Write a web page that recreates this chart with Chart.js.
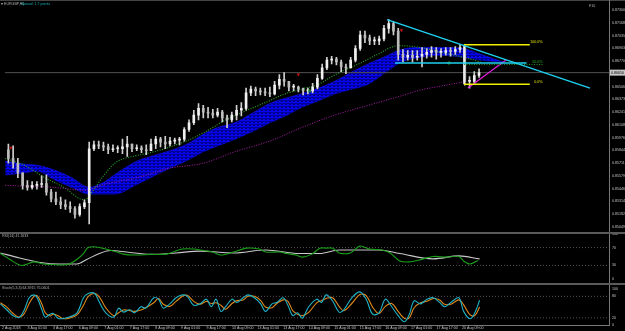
<!DOCTYPE html>
<html>
<head>
<meta charset="utf-8">
<script src="https://cdn.jsdelivr.net/npm/chart.js@4"></script>
<style>
body { margin:0; background:#000; width:625px; height:331px; overflow:hidden; position:relative; font-family:'Liberation Sans', sans-serif; }
canvas { position:absolute; left:0; }
.rule { position:absolute; background:#5a5a5a; }
.txt { position:absolute; font-size:3.6px; line-height:5px; white-space:nowrap; color:#b4b4b4; }
</style>
</head>
<body>
<canvas id="priceChart" style="top:0" width="625" height="233"></canvas>
<canvas id="rsiChart" style="top:229px" width="625" height="55"></canvas>
<canvas id="stochChart" style="top:284px" width="625" height="47"></canvas>

<div class="rule" style="left:0;top:0;width:625px;height:1px;background:#444"></div>
<div class="rule" style="left:609px;top:0;width:1px;height:326px;background:#777"></div>
<div class="rule" style="left:0;top:232px;width:625px;height:2px"></div>
<div class="rule" style="left:0;top:283px;width:625px;height:2px"></div>
<div class="rule" style="left:0;top:325px;width:610px;height:1px;background:#777"></div>

<div class="txt" style="left:1px;top:2px">&#9662; EURGBP,H1</div>
<div class="txt" style="left:21px;top:2px;color:#19b3b3">Spread: 1.7 points</div>
<div class="txt" style="left:589px;top:4px">F10</div>
<div class="txt" style="left:2px;top:234px">RSI(14) 41.1633</div>
<div class="txt" style="left:2px;top:286px">Stoch(5,3,3) 64.3915 75.0601</div>

<script>
Chart.defaults.font.family = 'Liberation Sans';

// time axis: one label every 16 hourly bars
const timeLabels = ['2 Aug 2018', '3 Aug 01:00', '3 Aug 17:00', '6 Aug 09:00', '7 Aug 01:00', '7 Aug 17:00',
    '8 Aug 09:00', '9 Aug 01:00', '9 Aug 17:00', '10 Aug 09:00', '13 Aug 01:00', '13 Aug 17:00',
    '14 Aug 09:00', '15 Aug 01:00', '15 Aug 17:00', '16 Aug 09:00', '17 Aug 01:00', '17 Aug 17:00', '20 Aug 09:00'];
const priceTicks = [0.87300, 0.87168, 0.87035, 0.86903, 0.86770, 0.86638, 0.86506, 0.86373, 0.86241,
    0.86108, 0.85976, 0.85844, 0.85711, 0.85579, 0.85446, 0.85314, 0.85182, 0.85049];

// candles, each one covers 3 hourly bars
const candleStep = 3;
const firstOpen = 0.8585;
const candleHigh = [0.8591,0.8589,0.8576,0.8561,0.8553,0.8552,0.8552,0.8558,0.8559,0.8544,
    0.8541,0.8536,0.8533,0.8531,0.8526,0.8529,0.8533,0.8593,0.8594,0.8594,
    0.8593,0.8591,0.8590,0.8589,0.8596,0.8599,0.8591,0.8590,0.8589,0.8590,
    0.8596,0.8599,0.8598,0.8599,0.8598,0.8597,0.8598,0.8608,0.8616,0.8626,
    0.8633,0.8631,0.8629,0.8627,0.8628,0.8626,0.8621,0.8624,0.8631,0.8634,
    0.8649,0.8651,0.8650,0.8649,0.8649,0.8650,0.8656,0.8663,0.8665,0.8654,
    0.8653,0.8651,0.8649,0.8649,0.8654,0.8663,0.8674,0.8681,0.8682,0.8681,
    0.8678,0.8674,0.8681,0.8693,0.8708,0.8708,0.8704,0.8702,0.8703,0.8714,
    0.8720,0.8718,0.8711,0.8689,0.8688,0.8688,0.8688,0.8691,0.8690,0.8692,
    0.8691,0.8690,0.8691,0.8691,0.8692,0.8694,0.8693,0.8661,0.8666,0.8669];
const candleLow = [0.8571,0.8566,0.8556,0.8544,0.8543,0.8544,0.8544,0.8546,0.8538,0.8531,
    0.8528,0.8524,0.8523,0.8520,0.8514,0.8516,0.8524,0.8508,0.8584,0.8586,
    0.8584,0.8581,0.8583,0.8582,0.8581,0.8578,0.8583,0.8584,0.8582,0.8580,
    0.8584,0.8586,0.8588,0.8586,0.8589,0.8591,0.8590,0.8594,0.8604,0.8611,
    0.8616,0.8618,0.8618,0.8618,0.8619,0.8614,0.8608,0.8614,0.8616,0.8620,
    0.8626,0.8641,0.8641,0.8642,0.8641,0.8640,0.8642,0.8648,0.8651,0.8646,
    0.8646,0.8645,0.8642,0.8643,0.8644,0.8648,0.8658,0.8668,0.8674,0.8673,
    0.8666,0.8664,0.8670,0.8676,0.8688,0.8696,0.8694,0.8694,0.8694,0.8698,
    0.8706,0.8704,0.8678,0.8676,0.8678,0.8676,0.8678,0.8671,0.8680,0.8681,
    0.8679,0.8681,0.8683,0.8682,0.8684,0.8686,0.8652,0.8649,0.8654,0.8660];
const candleClose = [0.8576,0.8571,0.8561,0.8548,0.8546,0.8548,0.8549,0.8550,0.8541,0.8534,
    0.8531,0.8528,0.8526,0.8524,0.8518,0.8526,0.8530,0.8586,0.8590,0.8589,
    0.8588,0.8585,0.8586,0.8586,0.8588,0.8591,0.8586,0.8587,0.8585,0.8584,
    0.8591,0.8596,0.8593,0.8591,0.8594,0.8595,0.8596,0.8606,0.8613,0.8621,
    0.8628,0.8624,0.8623,0.8621,0.8624,0.8618,0.8616,0.8621,0.8626,0.8628,
    0.8644,0.8648,0.8646,0.8645,0.8644,0.8643,0.8652,0.8658,0.8656,0.8650,
    0.8650,0.8648,0.8646,0.8646,0.8650,0.8659,0.8670,0.8678,0.8679,0.8676,
    0.8671,0.8670,0.8678,0.8690,0.8704,0.8701,0.8698,0.8698,0.8700,0.8711,
    0.8716,0.8708,0.8684,0.8681,0.8683,0.8681,0.8682,0.8684,0.8686,0.8688,
    0.8686,0.8686,0.8688,0.8687,0.8689,0.8691,0.8656,0.8656,0.8662,0.8665];

// moving averages (bar index -> price)
const fastBars = [-1,11,24,36,49,55,61,69,82,93,103,116,130,136,149,166,174,186,197,203,211,222,234,247,261,274,288,299];
const fastMa = [0.8576,0.8569,0.8556,0.8546,0.8533,0.8544,0.8558,0.8572,0.8579,0.8583,0.8588,0.8596,0.8608,0.8614,
    0.8624,0.8636,0.8642,0.8648,0.8653,0.8659,0.8666,0.8674,0.8684,0.8693,0.8691,0.8686,0.8681,0.8676];
const bandBars = [-1,11,19,30,41,52,61,68,82,93,103,114,124,133,144,155,166,177,186,197,207,218,228,238,249,261,274,288,299,313];
const bandUpper = [0.8573,0.8570,0.8569,0.8564,0.8556,0.8546,0.8551,0.8559,0.8573,0.8579,0.8584,0.8591,0.8601,0.8608,0.8613,
    0.8623,0.8633,0.8639,0.8643,0.8649,0.8656,0.8666,0.8674,0.8681,0.8689,0.8691,0.8691,0.8690,0.8684,0.8676];
const bandLower = [0.8559,0.8561,0.8563,0.8554,0.8546,0.8539,0.8539,0.8539,0.8549,0.8558,0.8566,0.8574,0.8583,0.8589,0.8596,
    0.8604,0.8613,0.8621,0.8629,0.8636,0.8643,0.8648,0.8653,0.8664,0.8676,0.8681,0.8683,0.8681,0.8678,0.8676];
const slowBars = [-1,30,49,61,82,103,124,144,166,186,207,228,249,261,274,290];
const slowMa = [0.8548,0.8546,0.8543,0.8549,0.8556,0.8566,0.8571,0.8583,0.8594,0.8608,0.8621,0.8631,0.8641,0.8647,0.8651,0.8656];

// drawn objects
const bidPrice = 0.8665;
const trendBars = [240, 368], trendPrices = [0.8720, 0.8649];
const supportBars = [245, 328], supportPrice = 0.8675;
const fibBars = [288.5, 330], fibMidEnd = 339, fibLabelBar = 338;
const fibLevels = [0.8694, 0.86735, 0.8653];
const fibNames = ['100.0%', '50.0%', '0.0%'];
const riseBars = [291, 315], risePrices = [0.8649, 0.8678];
const sellBars = [2.5, 184, 249], sellPrices = [0.8587, 0.8663, 0.8709];
const buyBars = [191, 279], buyPrices = [0.8646, 0.8675];

// RSI
const rsiBars = [-1,5,12,20,26,32,40,44,48,51,54,59,65,72,76,82,93,103,113,120,126,132,137,145,153,161,165,174,178,184,
    188,194,199,203,207,211,218,224,230,238,243,249,255,261,270,278,286,289,293,298];
const rsiValues = [56.7,43.3,30,38,33.3,32,31.4,36.7,46.7,56.7,70,71.4,66.7,60,55.3,53.3,54.7,55.3,66.7,66.7,
    63.3,60,53.3,60,68.7,66.7,60,60,56.7,53.3,48.7,55.3,68.7,68.7,68.7,58,58,73.3,66.7,64.7,
    58,40,38,42,50,48.7,50,40,33.3,41.2];
const rsiMaBars = [-1,11,24,36,47,53,61,68,78,93,109,124,145,165,186,199,211,236,249,270,286,299];
const rsiMa = [58,46.7,36.7,33.3,33.3,43.3,56.7,63.3,60,54.7,58,62,58,64.7,56.7,56.7,64.7,64.7,56.7,44.7,51.3,44.7];
const rsiLevels = [70, 30];

// Stochastic
const stochBars = [-1,3,7,11,14,17,20,22,25,27,30,32,35,38,42,47,51,54,58,61,65,70,73,76,80,83,87,90,95,98,
    101,105,109,113,116,120,124,128,131,134,137,140,144,147,151,154,158,162,165,169,172,176,179,182,185,188,192,197,200,203,
    207,211,214,219,224,228,232,236,240,244,248,252,255,258,262,266,270,274,277,281,286,289,293,296,299];
const stochMain = [59,42.5,26,22,42.5,76,84,76,42.5,22,30,32.5,19,17.5,22,34,76,88,88,63,34,22,47,36,42.5,34,51,47,76,72,
    47,59,76,84,80,55,59,72,51,72,38,51,72,63,76,84,76,59,38,59,63,76,55,26,34,19,51,72,63,84,
    67,36,42.5,76,92.5,72,30,34,72,51,26,9,30,67.5,59,72,76,63,51,63,76,38,17.5,34,69];
const stochSignal = [62,50,32,22,32,60,80,82,58,35,25,30,26,18,19,28,55,80,88,78,48,26,34,42,40,38,42,48,62,74,
    58,52,66,80,83,66,58,66,60,62,55,44,60,68,70,80,80,68,50,48,60,70,66,40,30,26,35,62,68,74,
    76,52,40,60,85,82,50,32,52,60,38,18,20,48,62,66,74,70,58,58,70,56,28,26,50];
const stochLevels = [80, 20];

const barMin = -1.25, barMax = 380;

function points(bars, values) {
    return bars.map((b, i) => ({x: b, y: values[i]}));
}

function lineSet(data, color, width, dash, order, extra) {
    return Object.assign({
        type: 'line', data: data, borderColor: color, borderWidth: width, borderDash: dash || [],
        pointRadius: 0, fill: false, order: order
    }, extra || {});
}

function bluePattern() {
    const c = document.createElement('canvas');
    c.width = 4; c.height = 3;
    const g = c.getContext('2d');
    g.fillStyle = '#0505f0'; g.fillRect(0, 0, 4, 3);
    g.fillStyle = '#00009c'; g.fillRect(0, 1, 4, 1);
    g.fillStyle = '#00007a'; g.fillRect(1, 2, 2, 1);
    return g.createPattern(c, 'repeat');
}

const xHidden = {type: 'linear', min: barMin, max: barMax, offset: false, display: false};

function yAxis(min, max, ticks, fmt) {
    return {
        position: 'right', min: min, max: max,
        afterFit: s => { s.width = 16; },
        afterBuildTicks: s => { s.ticks = ticks.map(v => ({value: v})); },
        ticks: {color: '#c4c4c4', font: {size: 3.6}, padding: 3, autoSkip: false, callback: fmt},
        grid: {display: false, drawTicks: false},
        border: {display: false}
    };
}

const baseOptions = {
    responsive: false, animation: false, events: [],
    plugins: {legend: {display: false}, tooltip: {enabled: false}}
};

// candles
const opens = candleClose.map((c, i) => i === 0 ? firstOpen : candleClose[i - 1]);
const candleX = candleClose.map((c, i) => i * candleStep + 1);
const wickData = candleX.map((x, i) => ({x: x, y: [candleLow[i], candleHigh[i]]}));
const bodyData = candleX.map((x, i) => ({x: x, y: [opens[i], candleClose[i]]}));
const bodyColors = candleClose.map((c, i) => c >= opens[i] ? '#f0f0f0' : '#bcbcbc');

const overlayText = {
    id: 'overlayText',
    afterDraw(chart) {
        const {ctx, scales: {x, y}} = chart;
        ctx.save();
        ctx.font = '3.6px Liberation Sans';
        ctx.textAlign = 'right';
        ctx.textBaseline = 'bottom';
        fibLevels.forEach((lv, i) => {
            ctx.fillStyle = i === 1 ? '#22b322' : '#e6e600';
            ctx.fillText(fibNames[i], x.getPixelForValue(fibLabelBar), y.getPixelForValue(lv) - 0.5);
        });
        // current price box on the axis
        const py = y.getPixelForValue(bidPrice);
        ctx.fillStyle = '#c8c8c8';
        ctx.fillRect(chart.chartArea.right + 1, py - 3, 16, 6);
        ctx.fillStyle = '#000';
        ctx.textAlign = 'left';
        ctx.textBaseline = 'middle';
        ctx.fillText(bidPrice.toFixed(5), chart.chartArea.right + 2, py);
        ctx.restore();
    }
};

new Chart(document.getElementById('priceChart'), {
    type: 'bar',
    data: {
        datasets: [
            lineSet(points(bandBars, bandUpper), '#1515ff', 0.6, null, 10,
                {fill: '+1', backgroundColor: bluePattern(), cubicInterpolationMode: 'monotone'}),
            lineSet(points(bandBars, bandLower), '#1515ff', 0.6, null, 10, {cubicInterpolationMode: 'monotone'}),
            lineSet(points(slowBars, slowMa), '#a81ea8', 1, [1, 1.5], 8, {cubicInterpolationMode: 'monotone'}),
            lineSet(points(fastBars, fastMa), '#26b026', 1.1, [1, 1.5], 8, {cubicInterpolationMode: 'monotone'}),
            lineSet(points([barMin, barMax], [bidPrice, bidPrice]), '#505050', 1, null, 9),
            {type: 'bar', data: wickData, backgroundColor: '#d0d0d0', barThickness: 1, grouped: false, order: 2},
            {type: 'bar', data: bodyData, backgroundColor: bodyColors, barThickness: 2, minBarLength: 1, grouped: false, order: 1},
            lineSet(points(trendBars, trendPrices), '#1ed2f0', 1.4, null, 0),
            lineSet(points(supportBars, [supportPrice, supportPrice]), '#1ed2f0', 1.4, null, 0),
            lineSet(points(fibBars, [fibLevels[0], fibLevels[0]]), '#f0f000', 1.4, null, 0),
            lineSet(points([fibBars[0], fibMidEnd], [fibLevels[1], fibLevels[1]]), '#22a022', 1, [1, 1.5], 0),
            lineSet(points(fibBars, [fibLevels[2], fibLevels[2]]), '#f0f000', 1.4, null, 0),
            lineSet(points([fibBars[0], fibBars[0]], [fibLevels[0], fibLevels[2]]), '#ffffff', 1.4, null, 0),
            lineSet(points(riseBars, risePrices), '#e020e0', 1.2, null, 0),
            lineSet(points(sellBars, sellPrices), '#c81414', 0, null, 0,
                {showLine: false, pointRadius: 2, pointStyle: 'triangle', rotation: 180, pointBackgroundColor: '#c81414', pointBorderWidth: 0}),
            lineSet(points(buyBars, buyPrices), '#1ea01e', 0, null, 0,
                {showLine: false, pointRadius: 1.5, pointStyle: 'rect', pointBackgroundColor: 'transparent', pointBorderColor: '#1ea01e', pointBorderWidth: 0.8})
        ]
    },
    options: Object.assign({}, baseOptions, {
        layout: {padding: {top: 1, bottom: 1, left: 0, right: 0}},
        scales: {
            x: xHidden,
            y: yAxis(0.8504, 0.8735, priceTicks, v => v.toFixed(5))
        }
    }),
    plugins: [overlayText]
});

new Chart(document.getElementById('rsiChart'), {
    type: 'line',
    data: {
        datasets: [
            lineSet(points([barMin, barMax], [rsiLevels[0], rsiLevels[0]]), '#6a6a6a', 0.8, [1, 2], 5),
            lineSet(points([barMin, barMax], [rsiLevels[1], rsiLevels[1]]), '#6a6a6a', 0.8, [1, 2], 5),
            lineSet(points(rsiMaBars, rsiMa), '#c8c8c8', 1.1, null, 2, {cubicInterpolationMode: 'monotone'}),
            lineSet(points(rsiBars, rsiValues), '#1aa01a', 1.1, null, 1, {tension: 0.3})
        ]
    },
    options: Object.assign({}, baseOptions, {
        layout: {padding: {top: 4, bottom: 1, left: 0, right: 0}},
        scales: {
            x: xHidden,
            y: yAxis(0, 100, [0, 30, 70, 100], v => String(v))
        }
    })
});

new Chart(document.getElementById('stochChart'), {
    type: 'line',
    data: {
        datasets: [
            lineSet(points([barMin, barMax], [stochLevels[0], stochLevels[0]]), '#6a6a6a', 0.8, [1, 2], 5),
            lineSet(points([barMin, barMax], [stochLevels[1], stochLevels[1]]), '#6a6a6a', 0.8, [1, 2], 5),
            lineSet(points(stochBars, stochSignal), '#e0881a', 1.1, null, 2, {tension: 0.35}),
            lineSet(points(stochBars, stochMain), '#1eb4c8', 1.1, null, 1, {tension: 0.35})
        ]
    },
    options: Object.assign({}, baseOptions, {
        layout: {padding: {top: 1, bottom: 0, left: 0, right: 0}},
        scales: {
            x: {
                type: 'linear', min: barMin, max: barMax, offset: false,
                afterFit: s => { s.height = 6; },
                afterBuildTicks: s => { s.ticks = timeLabels.map((t, i) => ({value: i * 16})); },
                ticks: {
                    color: '#c4c4c4', font: {size: 3.6}, padding: 1, align: 'start', maxRotation: 0,
                    autoSkip: false, callback: (v, i) => timeLabels[i]
                },
                grid: {display: false, drawTicks: false},
                border: {display: false}
            },
            y: yAxis(0, 100, [0, 20, 80, 100], v => String(v))
        }
    })
});
</script>
</body>
</html>
